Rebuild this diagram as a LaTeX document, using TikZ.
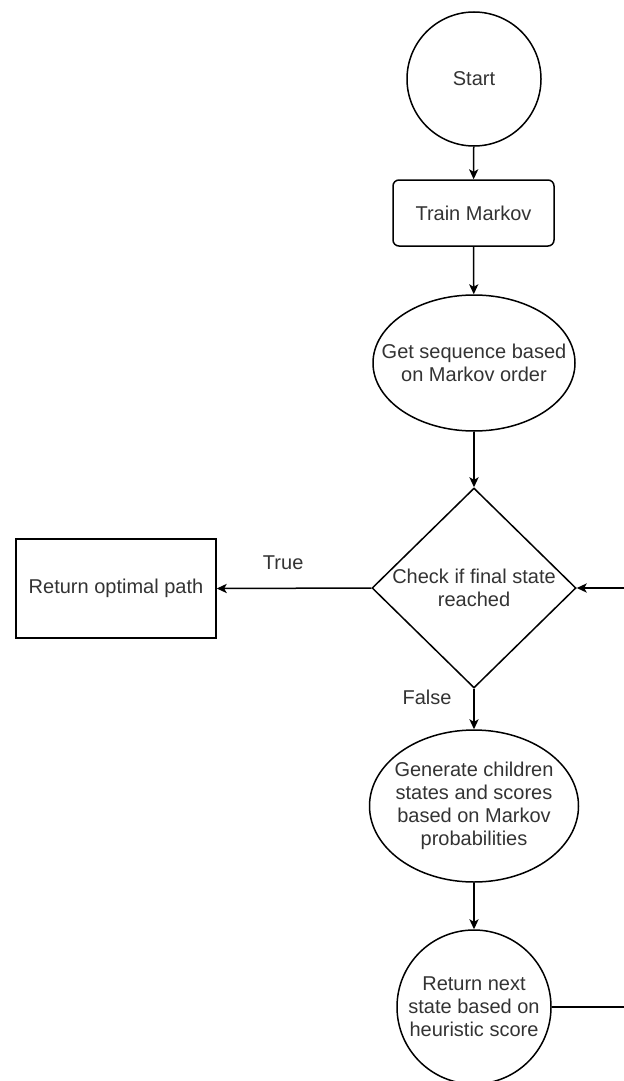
\documentclass[tikz,border=0pt]{standalone}
\usepackage{fontspec}
\setmainfont{Liberation Sans}
\usetikzlibrary{shapes.geometric, arrows.meta}

\tikzset{
    box/.style={draw, line width=0.75pt, inner sep=0pt, align=center},
    roundbox/.style={box, rectangle, rounded corners=3pt},
    oval/.style={box, ellipse},
    decision/.style={box, diamond},
    flow/.style={line width=0.75pt, -{Stealth[length=5pt, width=4.6pt, inset=1.3pt]}},
    every node/.append style={text=black!80},
    every label/.style={align=center}
}

\begin{document}
\begin{tikzpicture}[x=0.5pt, y=-0.5pt, font=\fontsize{10}{11.5}\selectfont]
    \useasboundingbox (0,0) rectangle (624,1081);

    % Main column
    \node[box, circle, minimum size=67pt] (start) at (474,79) {Start};
    \node[roundbox, minimum width=80.5pt, minimum height=33pt] (train) at (473.5,213) {Train Markov};
    \node[oval, minimum width=101pt, minimum height=68pt,
          label={center:Get sequence based\\on Markov order}] (seq) at (474,363) {};
    \node[decision, minimum width=102pt, minimum height=100pt,
          label={center:Check if final state\\reached}] (check) at (474,588) {};
    \node[oval, minimum width=104.5pt, minimum height=76pt,
          label={center:Generate children\\states and scores\\based on Markov\\probabilities}] (gen) at (474,806) {};
    \node[box, circle, minimum size=77pt] (next) at (474,1007) {Return next\\state based on\\heuristic score};

    % Exit
    \node[box, rectangle, minimum width=100pt, minimum height=49.5pt] (ret) at (116,588.5) {Return optimal path};

    % Arrows
    \draw[flow] (start) -- (train);
    \draw[flow] (train) -- (seq);
    \draw[flow] (seq) -- (check);
    \draw[flow] (check.west) -- (ret.east) node[pos=0.57, yshift=13pt] {True};
    \draw[flow] (check.south) -- (gen.north) node[pos=0.21, xshift=-23.5pt] {False};
    \draw[flow] (gen) -- (next);

    % Loop back to the check
    \draw[flow] (next.east) -- ++(80,0) |- (check.east);
\end{tikzpicture}
\end{document}
